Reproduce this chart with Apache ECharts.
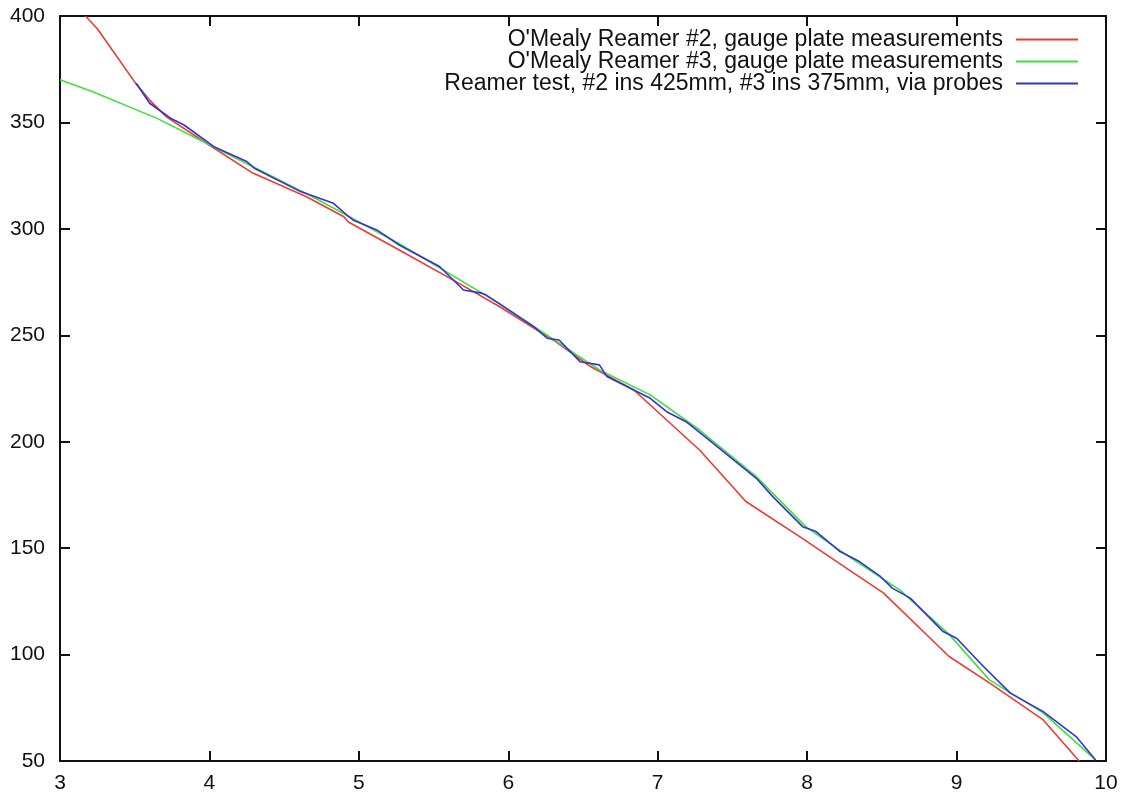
<!DOCTYPE html>
<html>
<head>
<meta charset="utf-8">
<script src="https://cdn.jsdelivr.net/npm/echarts@6/dist/echarts.min.js"></script>
<style>
  html, body { margin: 0; padding: 0; background: #fff; }
  #chart { width: 1127px; height: 795px; }
</style>
</head>
<body>
<div id="chart"></div>
<script>
// series names
const names = [
  "O'Mealy Reamer #2, gauge plate measurements",
  "O'Mealy Reamer #3, gauge plate measurements",
  'Reamer test, #2 ins 425mm, #3 ins 375mm, via probes',
]

// reamer #2 (red)
const redX = [3.17, 3.25, 3.51, 3.60, 3.71, 3.98, 4.29, 4.65, 4.90, 4.93, 5.27, 5.65, 5.94, 6.30, 6.55, 6.84, 7.28, 7.59, 7.95, 8.28, 8.51, 8.95, 9.22, 9.58, 9.82]
const redY = [400, 394, 368, 360.5, 352.7, 340.2, 326.2, 315.1, 305.7, 303.2, 290.1, 275.2, 263.5, 247.8, 235.3, 224.3, 196.1, 171.9, 155.4, 139.8, 129, 99.1, 86.7, 69.3, 50]

// reamer #3 (green)
const greenX = [3.0, 3.22, 3.65, 3.98, 4.69, 5.27, 5.94, 6.61, 6.95, 7.28, 7.66, 7.99, 8.28, 8.62, 8.95, 9.22, 9.58, 9.93]
const greenY = [370, 364.4, 351.9, 340.2, 315.1, 293, 265, 233.7, 222, 205.5, 183.6, 160.1, 146, 130.4, 109.5, 88.1, 72.6, 50.5]

// probe test (blue)
const blueX = [3.51, 3.60, 3.74, 3.83, 4.03, 4.25, 4.30, 4.61, 4.83, 4.92, 4.96, 5.12, 5.27, 5.54, 5.70, 5.82, 5.85, 6.17, 6.26, 6.34, 6.48, 6.61, 6.66, 6.95, 7.06, 7.19, 7.33, 7.66, 7.77, 7.97, 8.06, 8.22, 8.35, 8.49, 8.57, 8.69, 8.91, 9.00, 9.18, 9.36, 9.58, 9.80, 9.93]
const blueY = [368.4, 359, 352, 348.8, 338.6, 331.6, 328.5, 317.5, 312, 306.5, 304.2, 299.5, 292.4, 282.3, 271.3, 269.8, 269, 254.1, 248.6, 247.8, 237.6, 236.1, 230.6, 220.4, 214.1, 209.4, 201.6, 182.8, 174.2, 160.1, 157.8, 148.4, 143.7, 136.7, 131.2, 126.5, 110.8, 107.7, 94.4, 81.9, 73.2, 61.5, 50.5]

const colors = ['#ee3b33', '#3fe03f', '#3434d4']

const zip = (xs, ys) => xs.map((x, i) => [x, ys[i]])

const chart = echarts.init(document.getElementById('chart'), null, { renderer: 'canvas' })

const fam = 'Liberation Sans, Arial, Helvetica, sans-serif'
const font = { fontFamily: fam, fontSize: 21, color: '#111' }
const frameLine = { show: true, onZero: false, lineStyle: { color: '#111', width: 2 } }
const tick = { show: true, inside: true, length: 10, lineStyle: { color: '#111', width: 2 } }

// one legend per row so text stays right-aligned against the icons
const legendTops = [28, 50, 72]
const legends = names.map((n, i) => ({
  data: [{ name: n, icon: 'rect' }],
  right: 49,
  top: legendTops[i],
  padding: 0,
  align: 'right',
  itemWidth: 62,
  itemHeight: 2,
  itemGap: 0,
  selectedMode: false,
  textStyle: { fontFamily: fam, fontSize: 23, color: '#111', lineHeight: 22, padding: [0, 8, 0, 0] },
}))

chart.setOption({
  backgroundColor: '#fff',
  animation: false,
  legend: legends,
  grid: { left: 60, right: 21, top: 16, bottom: 34 },
  xAxis: [
    {
      type: 'value', min: 3, max: 10, interval: 1,
      axisLine: frameLine, axisTick: tick, splitLine: { show: false },
      axisLabel: { ...font, margin: 12 },
    },
    {
      type: 'value', position: 'top', min: 3, max: 10, interval: 1,
      axisLine: frameLine, axisTick: tick, splitLine: { show: false },
      axisLabel: { show: false },
    },
  ],
  yAxis: [
    {
      type: 'value', min: 50, max: 400, interval: 50,
      axisLine: frameLine, axisTick: tick, splitLine: { show: false },
      axisLabel: { ...font, margin: 15 },
    },
    {
      type: 'value', position: 'right', min: 50, max: 400, interval: 50,
      axisLine: frameLine, axisTick: tick, splitLine: { show: false },
      axisLabel: { show: false },
    },
  ],
  series: [
    [redX, redY], [greenX, greenY], [blueX, blueY],
  ].map(([xs, ys], i) => ({
    name: names[i],
    type: 'line',
    data: zip(xs, ys),
    symbol: 'none',
    color: colors[i],
    lineStyle: { color: colors[i], width: 1.6 },
    clip: true,
  })),
})
</script>
</body>
</html>
